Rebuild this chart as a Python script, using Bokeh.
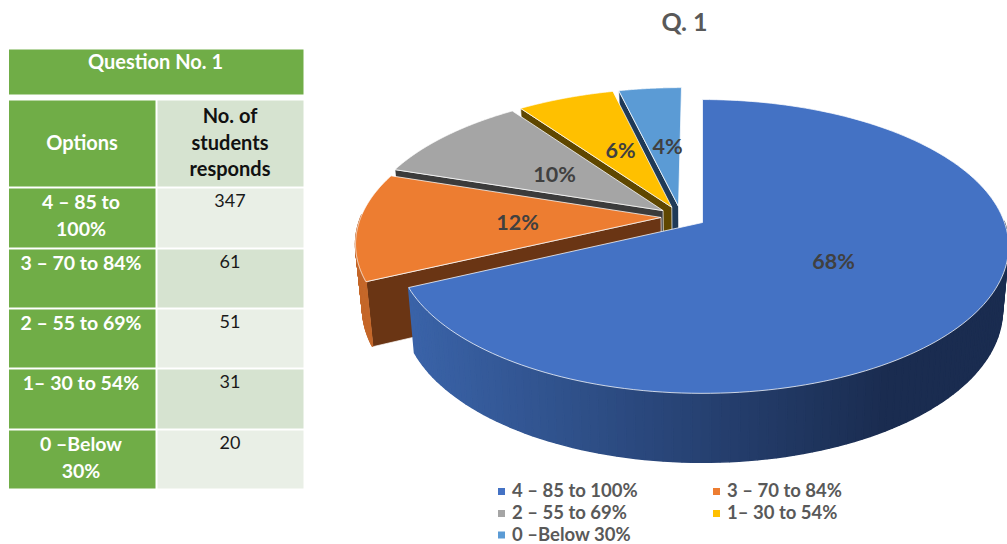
import numpy as np
from bokeh.plotting import figure
from bokeh.core.properties import value
from bokeh.embed import file_html
from bokeh.resources import INLINE

options = ["4 – 85 to 100%", "3 – 70 to 84%", "2 – 55 to 69%", "1– 30 to 54%", "0 –Below 30%"]
responses = [347, 61, 51, 31, 20]
option_lines = [["4 – 85 to", "100%"], ["3 – 70 to 84%"], ["2 – 55 to 69%"], ["1– 30 to 54%"], ["0 –Below", "30%"]]
top_colors = ["#4472C4", "#ED7D31", "#A5A5A5", "#FFC000", "#5B9BD5"]
wall_colors = ["#2F5597", "#C5682B", "#3B3B3B", "#5F4700", "#1F3A57"]
radial_colors = ["#2F5597", "#6A3514", "#3B3B3B", "#5F4700", "#1F3A57"]

FONT = value("Lato")
p = figure(width=1007, height=544, x_range=(0, 1007), y_range=(544, 0), toolbar_location=None,
           output_backend="svg", min_border=0, outline_line_color=None,
           x_axis_type=None, y_axis_type=None)
p.background_fill_color = "white"
p.grid.visible = False

# ---- table
GREEN, DARK, LIGHT = "#70AD47", "#D6E3D0", "#E9EFE6"
col = [(8.5, 155), (157, 303)]
rows = [(188, 247), (249, 307), (309, 367), (369, 428), (430, 488)]

def cell(x0, x1, y0, y1, c):
    p.quad(left=x0, right=x1, top=y0, bottom=y1, fill_color=c, line_color=None)

def label(x, y, s, size, color, bold=True, align="center"):
    p.text([x], [y - 1.5], text=[s], text_font=FONT, text_font_size=f"{size}px",
           text_font_style="bold" if bold else "normal", text_color=color,
           text_align=align, text_baseline="middle")

cell(8.5, 303, 49, 94, GREEN)
label(155, 62, "Question No. 1", 20, "white")
cell(*col[0], 100, 186, GREEN)
cell(*col[1], 100, 186, DARK)
label(81.5, 143, "Options", 20, "white")
for yy, s in zip((116, 143, 169), ("No. of", "students", "responds")):
    label(229.5, yy, s, 20, "#111111")
for i, (r, lines, n) in enumerate(zip(rows, option_lines, responses)):
    cell(*col[0], *r, GREEN)
    cell(*col[1], *r, LIGHT if i % 2 == 0 else DARK)
    for j, s in enumerate(lines):
        label(80.5, r[0] + 14 + j * 27, s, 19.5, "white")
    label(229.5, r[0] + 13, str(n), 18, "#1a1a1a", bold=False)

# ---- pie projection (values -> angles -> perspective projected circle)
cx, cy, a, b, k = 702.0, 222.0, 302.0, 143.0, 0.163
EXPL = 0.075
nudge = [0.0, 0.0, -2.5, -2.5, -2.5]
shares = np.array(responses, float) / sum(responses)
ends = np.cumsum(shares) * 2 * np.pi
starts = np.concatenate(([0.0], ends[:-1]))
mids0 = (starts[0] + ends[0]) / 2
origin = np.array([-EXPL * np.sin(mids0), -EXPL * np.cos(mids0)])

def top(u, v, dx=0.0):
    s = 1 / (1 + k * v)
    return cx + a * u * s + dx, cy - b * v * s

def bottom(u, v, dx=0.0):
    x, y = top(u, v)
    return cx + (x - cx) * 0.98 + dx, y + 62.5 - 6.5 * v

def hex_mix(c1, c2, t):
    a1 = np.array([int(c1[i:i + 2], 16) for i in (1, 3, 5)], float)
    a2 = np.array([int(c2[i:i + 2], 16) for i in (1, 3, 5)], float)
    m = (a1 + (a2 - a1) * t).round().astype(int)
    return "#%02x%02x%02x" % tuple(m)

def slice_geom(i):
    m = (starts[i] + ends[i]) / 2
    ap = origin + EXPL * np.array([np.sin(m), np.cos(m)])
    th = np.linspace(starts[i], ends[i], 160)
    return ap, th, ap[0] + np.sin(th), ap[1] + np.cos(th)

for i in [4, 3, 2, 1, 0]:
    ap, th, us, vs = slice_geom(i)
    dx = nudge[i]
    if i > 0:
        t0 = top(*ap, dx); t1 = top(us[0], vs[0], dx); b1 = bottom(us[0], vs[0], dx); b0 = bottom(*ap, dx)
        p.patch([t0[0], t1[0], b1[0], b0[0]], [t0[1], t1[1], b1[1], b0[1]],
                fill_color=radial_colors[i], line_color="white", line_width=1, line_alpha=0.7)
    xs, ys, cs = [], [], []
    for j in range(len(th) - 1):
        if np.cos(th[j]) > 0.02:
            continue
        t0 = top(us[j], vs[j], dx); t1 = top(us[j + 1], vs[j + 1], dx)
        b1 = bottom(us[j + 1], vs[j + 1], dx); b0 = bottom(us[j], vs[j], dx)
        xs.append([t0[0], t1[0], b1[0], b0[0]])
        ys.append([t0[1], t1[1], b1[1], b0[1]])
        if i == 0:
            tt = np.clip((t0[0] - 410) / 480, 0, 1)
            cs.append(hex_mix("#3A63A8", "#1A2C50", tt))
        else:
            cs.append(wall_colors[i])
    if xs:
        p.patches(xs, ys, fill_color=cs, line_color=cs, line_width=1.5)
    x_arc, y_arc = top(us, vs, dx)
    ax, ay = top(*ap, dx)
    p.patch(np.r_[ax, x_arc], np.r_[ay, y_arc], fill_color=top_colors[i],
            line_color="white", line_width=1, line_alpha=0.75)

# ---- percent labels
pct_pos = [(833, 262), (517, 223), (554, 175), (620, 151), (667, 147)]
for (x, y), v in zip(pct_pos, shares):
    label(x, y, f"{round(v * 100)}%", 21.5, "#404040")

label(684, 22, "Q. 1", 25, "#595959")

# ---- legend
leg_pos = [(501, 491), (716, 491), (501, 513), (716, 513), (501, 534.5)]
for (x, y), s, c in zip(leg_pos, options, top_colors):
    p.quad(left=x - 3.5, right=x + 3.5, top=y - 3.5, bottom=y + 3.5, fill_color=c, line_color=None)
    label(x + 10.5, y, s, 18.5, "#595959", align="left")

open("out.html", "w").write(file_html(p, INLINE))
